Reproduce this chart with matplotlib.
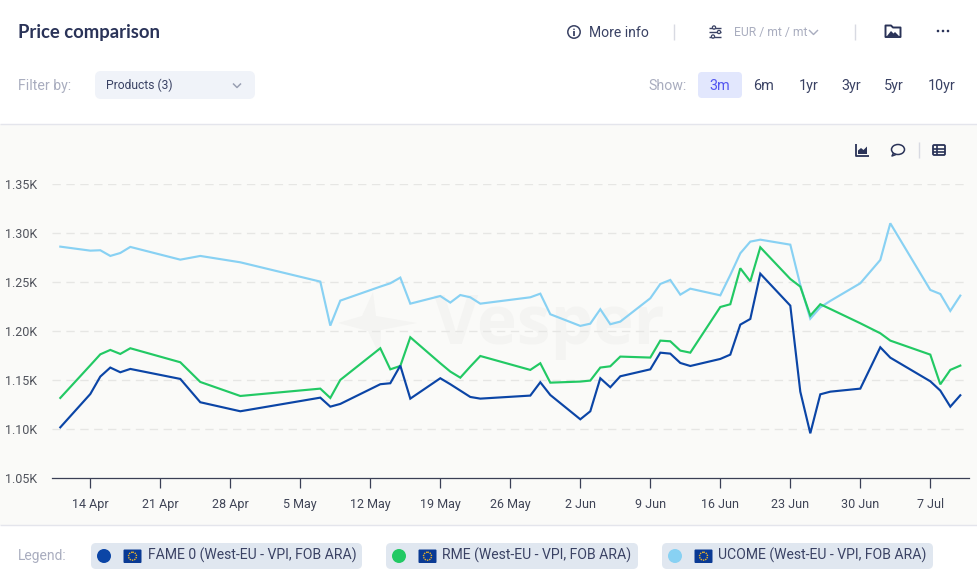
import datetime as dt
import matplotlib
matplotlib.use("Agg")
import matplotlib.pyplot as plt
import matplotlib.dates as mdates
from matplotlib.patches import FancyBboxPatch, Circle, Rectangle, Polygon, Ellipse

W, H = 978, 583
plt.rcParams['font.family'] = ['Roboto', 'DejaVu Sans']

dates = ["04-11","04-14","04-15","04-16","04-17","04-18","04-23","04-25","04-29","05-07","05-08",
         "05-09","05-13","05-14","05-15","05-16","05-19","05-20","05-21","05-22","05-23","05-28","05-29","05-30",
         "06-02","06-03","06-04","06-05","06-06","06-09",
         "06-10","06-11","06-12","06-13","06-16","06-17","06-18","06-19","06-20","06-23","06-24","06-25","06-26","06-27","06-30",
         "07-02","07-03","07-07","07-08","07-09","07-10"]
ucome = [1286.4,1282.3,1282.7,1276.9,1279.9,1286.1,1273.1,1276.9,1270.4,1250.7,1205.8,
         1231.3,1245.6,1249.0,1254.8,1228.2,1236.0,1229.3,1237.0,1234.7,1228.2,1234.7,1238.4,1217.4,
         1205.5,1207.8,1222.5,1207.2,1209.9,1233.7,
         1248.3,1252.4,1237.4,1243.5,1236.7,1257.5,1279.6,1291.5,1293.5,1288.4,1247.3,1212.9,1224.5,1231.0,1249.0,
         1272.8,1310.2,1242.2,1238.1,1220.8,1236.4]
rme = [1132.0,1165.3,1176.5,1181.0,1176.9,1182.7,1168.4,1148.3,1134.0,1141.5,1132.0,
       1150.4,1182.7,1161.2,1164.6,1193.9,1167.4,1158.9,1152.7,1164.0,1174.8,1160.6,1167.4,1147.6,
       1148.7,1149.7,1163.0,1164.3,1174.2,1173.2,
       1190.5,1189.8,1180.3,1178.2,1224.8,1227.6,1264.3,1251.0,1285.7,1253.4,1245.6,1216.0,1227.6,1222.8,1208.2,
       1198.0,1190.5,1176.2,1145.9,1160.6,1165.0]
fame = [1102.0,1136.0,1153.8,1163.0,1158.2,1161.6,1151.4,1127.6,1118.4,1132.3,1123.1,
        1125.9,1146.0,1147.0,1165.0,1131.3,1152.1,1146.0,1139.5,1133.0,1131.3,1134.4,1148.0,1135.0,
        1110.2,1118.4,1152.1,1142.9,1154.1,1161.2,
        1178.2,1177.2,1167.7,1164.6,1171.8,1176.2,1206.8,1212.6,1258.8,1226.2,1138.4,1095.9,1135.7,1138.4,1141.5,
        1183.7,1173.1,1149.0,1139.5,1123.1,1134.7]
ytick_vals = [1050,1100,1150,1200,1250,1300,1350]
ytick_labels = ["1.05K","1.10K","1.15K","1.20K","1.25K","1.30K","1.35K"]
xtick_dates = ["04-14","04-21","04-28","05-05","05-12","05-19","05-26","06-02","06-09","06-16","06-23","06-30","07-07"]
xtick_labels = ["14 Apr","21 Apr","28 Apr","5 May","12 May","19 May","26 May","2 Jun","9 Jun","16 Jun","23 Jun","30 Jun","7 Jul"]
show_opts = ["3m","6m","1yr","3yr","5yr","10yr"]
show_x = [720,764,808.5,851,894,941.5]

def D(s):
    return dt.datetime(2025, int(s[:2]), int(s[3:]))

NAVY = "#2A3358"; GREY = "#A9ADBF"; DARK = "#3A4264"
C_F, C_R, C_U = "#0B45A6", "#22C964", "#88D1F3"

fig = plt.figure(figsize=(W/100, H/100), dpi=100, facecolor="white")
bg = fig.add_axes([0,0,1,1], zorder=0)
bg.set_xlim(0,W); bg.set_ylim(H,0); bg.axis("off")

def line(a, xs, ys, c, lw=1.0):
    a.plot(xs, ys, color=c, lw=lw, solid_capstyle="butt")
def chip(a, x0, y0, x1, y1, c, r=5):
    a.add_patch(FancyBboxPatch((x0+r,y0+r),x1-x0-2*r,y1-y0-2*r,boxstyle=f"round,pad={r},rounding_size={r}",fc=c,ec="none"))

# panels
bg.add_patch(Rectangle((0,123.5),W,401,fc="#FAFAF8",ec="none"))
line(bg,[0,W],[123.5,123.5],"#E4E5EC",1)
line(bg,[0,W],[524.5,524.5],"#E4E5EC",1)

# header
bg.text(18,38,"Price comparison",fontsize=13.3,fontweight="bold",color=NAVY,family=["Lato","DejaVu Sans"],va="baseline")
bg.text(18,90,"Filter by:",fontsize=10.2,color=GREY,va="baseline")
chip(bg,95,71,255,99,"#F0F3F9",6)
bg.text(106.5,89,"Products (3)",fontsize=8.7,color=DARK,va="baseline")
line(bg,[233,237,241],[83.5,87.5,83.5],"#9AA0B4",1.1)
# more info
bg.add_patch(Circle((574,32),6.2,fc="none",ec=DARK,lw=1.1))
bg.add_patch(Circle((574,29.3),0.8,fc=DARK,ec="none"))
line(bg,[574,574],[31,35.5],DARK,1.3)
bg.text(589,37,"More info",fontsize=10.1,color=DARK,va="baseline")
line(bg,[673.5,673.5],[24,40],"#D8DAE2",1)
for y,xk in [(27.5,714),(32,719),(36.5,713)]:
    line(bg,[709,721],[y,y],DARK,1)
    bg.add_patch(Circle((xk,y),1.6,fc="white",ec=DARK,lw=0.9,zorder=4))
bg.text(733.5,36,"EUR / mt / mt",fontsize=8.7,color=GREY,va="baseline")
line(bg,[809,813.5,818],[30,34.5,30],GREY,1)
line(bg,[854.5,854.5],[24,40],"#D8DAE2",1)
# folder image icon
bg.add_patch(Polygon([(885.5,25.5),(891,25.5),(893,27.5),(900.5,27.5),(900.5,37),(885.5,37)],closed=True,fc="none",ec=NAVY,lw=1.4,joinstyle="round"))
bg.add_patch(Polygon([(887,36),(891,31),(893.5,33.5),(895,32),(899,36)],closed=True,fc=NAVY,ec="none"))
for x in (938,943,948):
    bg.add_patch(Circle((x,31),1.3,fc=NAVY,ec="none"))
# show row
bg.text(648,90,"Show:",fontsize=10.2,color=GREY,va="baseline")
chip(bg,698,72,742,98,"#E2E7FD",4)
for i,(s,x) in enumerate(zip(show_opts,show_x)):
    bg.text(x,90,s,fontsize=10.4,color="#5457F0" if i==0 else DARK,ha="center",va="baseline")
# chart icons
line(bg,[855.5,855.5,868.5],[144,155.5,155.5],NAVY,1.3)
bg.add_patch(Polygon([(858,154),(858,150.5),(861,148),(863.5,150),(867,146.5),(867,154)],closed=True,fc=NAVY,ec="none"))
bg.add_patch(Ellipse((898,149.5),13,10,fc="none",ec=NAVY,lw=1.1))
line(bg,[893.5,892,896],[153,156,154.5],NAVY,1.1)
line(bg,[918.5,918.5],[142,158],"#D8DAE2",1)
bg.add_patch(FancyBboxPatch((933,145),12,10,boxstyle="round,pad=0,rounding_size=1.2",fc="none",ec=NAVY,lw=1.3))
line(bg,[933,945],[148.5,148.5],NAVY,1.2); line(bg,[933,945],[152,152],NAVY,1.2); line(bg,[937,937],[145,155],NAVY,1.2)

# watermark
WM = "#F4F4F2"
bg.add_patch(Polygon([(373,292),(376,316),(417,323),(381,330),(380,356),(368,331),(338,323),(362,316)],closed=True,fc=WM,ec="none"))
bg.text(434,343.5,"Vesper",fontsize=49,fontweight="bold",color=WM,va="baseline",family=["Open Sans","DejaVu Sans"])

# chart
L, R, T, B = 52, 969, 184.3, 478.3
ax = fig.add_axes([L/W, 1-B/H, (R-L)/W, (B-T)/H], zorder=1)
ax.patch.set_visible(False)
base = mdates.date2num(D("04-14"))
ax.set_xlim(base-(90.3-L)/10, base+(R-90.3)/10)
ax.set_ylim(1050,1350)
xs = [D(s) for s in dates]
ax.plot(xs, ucome, color=C_U, lw=1.55, zorder=3, solid_joinstyle="miter")
ax.plot(xs, rme, color=C_R, lw=1.55, zorder=4, solid_joinstyle="miter")
ax.plot(xs, fame, color=C_F, lw=1.55, zorder=5, solid_joinstyle="miter")
for s in ("top","right","left"):
    ax.spines[s].set_visible(False)
ax.spines["bottom"].set_color("#3A3F55"); ax.spines["bottom"].set_linewidth(0.9)
ax.set_yticks(ytick_vals); ax.set_yticklabels(ytick_labels)
ax.set_xticks([D(s) for s in xtick_dates]); ax.set_xticklabels(xtick_labels)
ax.tick_params(axis="y",length=0,pad=10.8,labelsize=9,labelcolor="#50535C")
ax.tick_params(axis="x",length=7.5,width=0.9,color="#3A3F55",pad=6.5,labelsize=9,labelcolor="#3F4456")
ax.grid(False)
for v in ytick_vals[1:]:
    ax.axhline(v,color="#E6E6E4",lw=1,dashes=(6,4),zorder=1)

# legend
bg.text(18,560,"Legend:",fontsize=10,color=GREY,va="baseline")
items = [(91,362,104,123.5,148,"FAME 0 (West-EU - VPI, FOB ARA)",C_F),
         (386,638,399,418.5,442.5,"RME (West-EU - VPI, FOB ARA)",C_R),
         (662,933,675,694.5,718.5,"UCOME (West-EU - VPI, FOB ARA)",C_U)]
for x0,x1,cx,fx,tx,label,c in items:
    chip(bg,x0,543,x1,569,"#E0E7F0",5)
    bg.add_patch(Circle((cx,556),7,fc=c,ec="none"))
    bg.add_patch(FancyBboxPatch((fx,549.5),18,13.5,boxstyle="round,pad=0,rounding_size=1",fc="#0A3A94",ec="none"))
    bg.add_patch(Circle((fx+9,556.2),4,fc="none",ec="#E9B32A",lw=1,ls=(0,(1,0.7))))
    bg.text(tx,560,label,fontsize=10.1,color=DARK,va="baseline")

fig.savefig("out.png",dpi=100,facecolor="white")
